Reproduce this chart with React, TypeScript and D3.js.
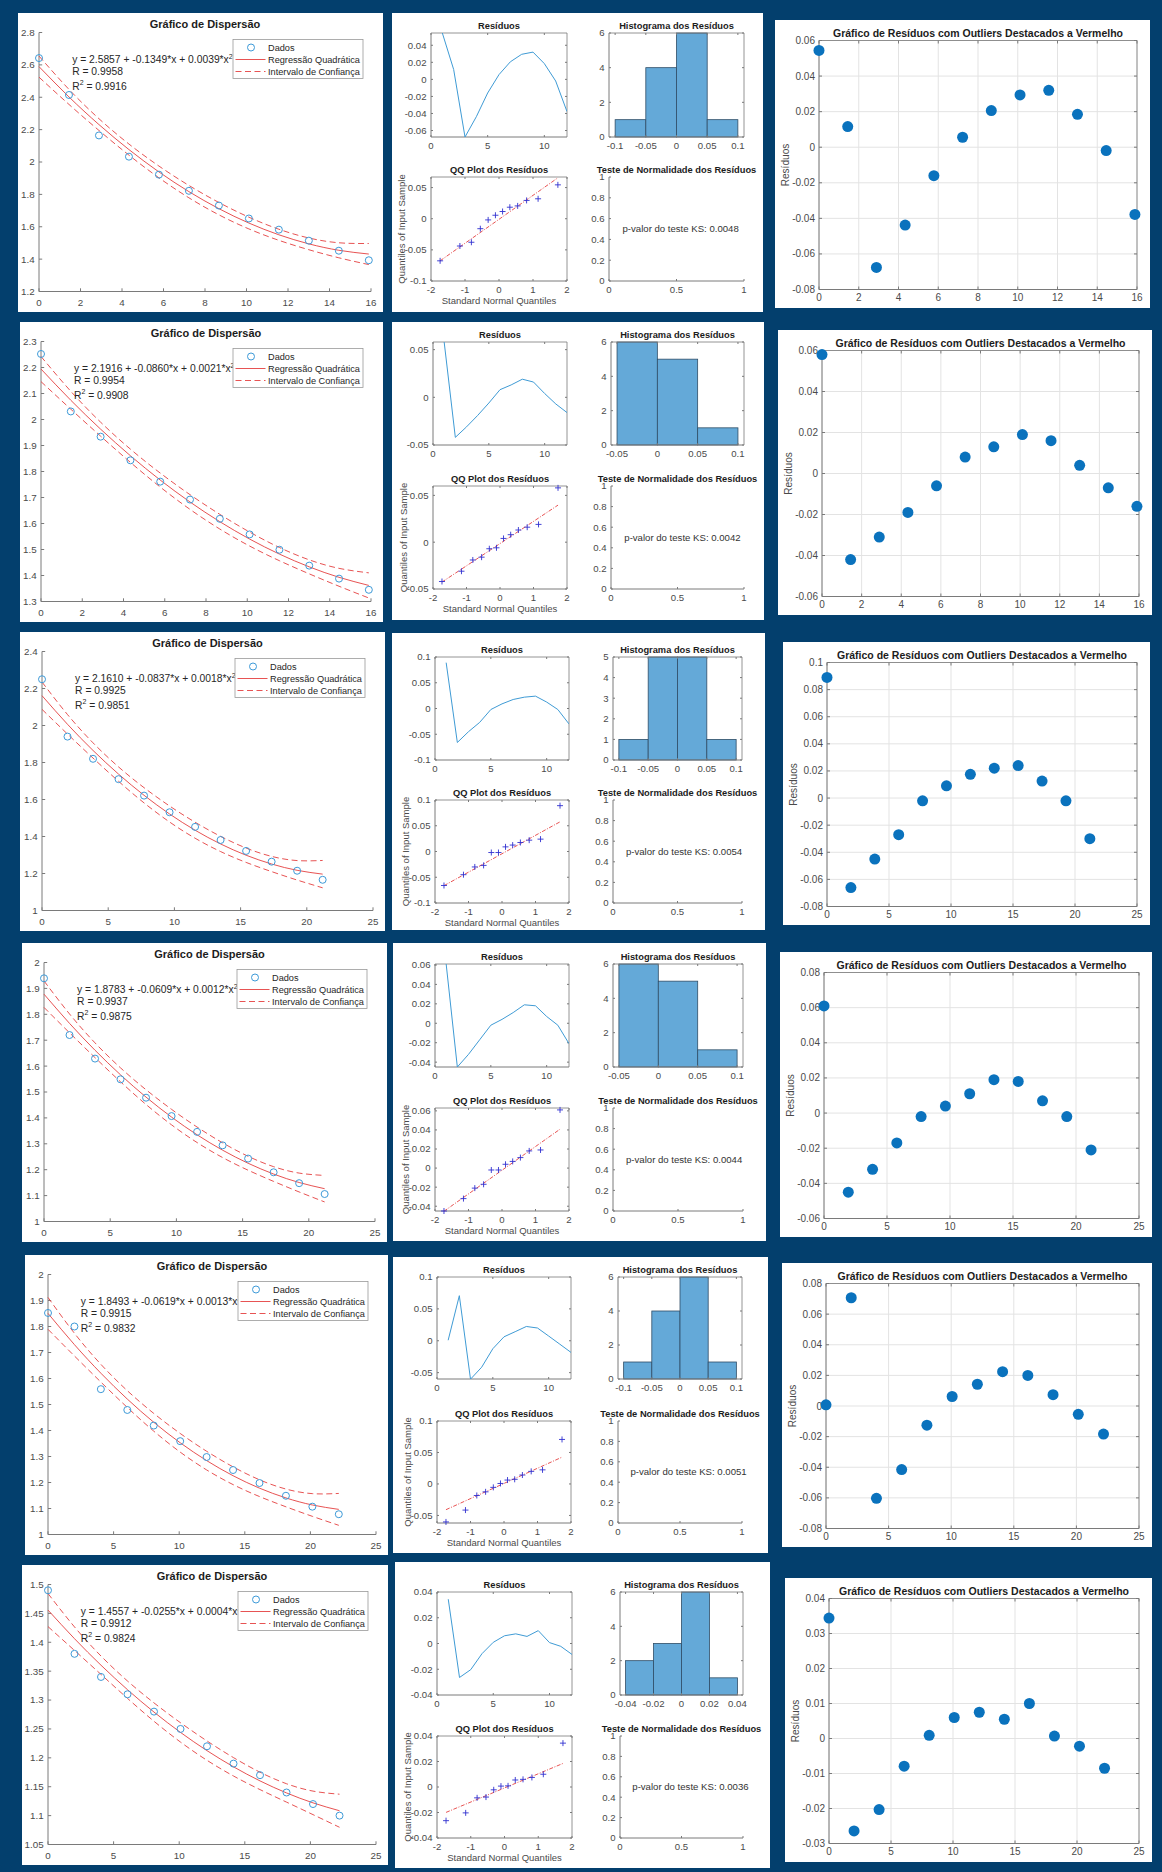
import React from 'react';
import * as d3 from 'd3';

// ================= DATA =================
const NORMAL_QUANTILES = [-1.732, -1.15, -0.812, -0.549, -0.319, -0.105, 0.105, 0.319, 0.549, 0.812, 1.15, 1.732];

const X1 = [0, 1.445, 2.89, 4.335, 5.78, 7.225, 8.67, 10.115, 11.56, 13.005, 14.45, 15.895];
const Y1 = [2.642, 2.414, 2.164, 2.033, 1.922, 1.822, 1.731, 1.651, 1.582, 1.514, 1.452, 1.393];
const RES1 = [0.0544, 0.0116, -0.0676, -0.0438, -0.016, 0.0056, 0.0206, 0.0294, 0.032, 0.0185, -0.0019, -0.0378];

const X2 = [0, 1.445, 2.89, 4.335, 5.78, 7.225, 8.67, 10.115, 11.56, 13.005, 14.45, 15.895];
const Y2 = [2.252, 2.031, 1.934, 1.843, 1.761, 1.692, 1.618, 1.558, 1.499, 1.438, 1.388, 1.345];
const RES2 = [0.058, -0.042, -0.031, -0.019, -0.006, 0.008, 0.013, 0.019, 0.016, 0.004, -0.007, -0.016];

const X3 = [0, 1.927, 3.854, 5.781, 7.708, 9.635, 11.562, 13.489, 15.416, 17.343, 19.27, 21.197];
const Y3 = [2.25, 1.94, 1.82, 1.71, 1.621, 1.531, 1.452, 1.381, 1.322, 1.264, 1.215, 1.166];
const RES3 = [0.089, -0.066, -0.045, -0.027, -0.002, 0.009, 0.0175, 0.022, 0.024, 0.0125, -0.002, -0.03];

const X4 = [0, 1.927, 3.854, 5.781, 7.708, 9.635, 11.562, 13.489, 15.416, 17.343, 19.27, 21.197];
const Y4 = [1.939, 1.72, 1.629, 1.549, 1.478, 1.407, 1.346, 1.294, 1.243, 1.19, 1.148, 1.106];
const RES4 = [0.061, -0.045, -0.032, -0.017, -0.002, 0.004, 0.011, 0.019, 0.018, 0.007, -0.002, -0.021];

const X5 = [0, 2.015, 4.03, 6.045, 8.06, 10.075, 12.09, 14.105, 16.12, 18.135, 20.15, 22.165];
const Y5 = [1.852, 1.8, 1.559, 1.479, 1.419, 1.359, 1.298, 1.248, 1.198, 1.149, 1.107, 1.078];
const RES5 = [0.0008, 0.0707, -0.0603, -0.0415, -0.0125, 0.0062, 0.0142, 0.0224, 0.02, 0.0074, -0.0054, -0.0183];

const X6 = [0, 2.02, 4.04, 6.06, 8.08, 10.1, 12.12, 14.14, 16.16, 18.18, 20.2, 22.22];
const Y6 = [1.49, 1.38, 1.34, 1.31, 1.28, 1.25, 1.22, 1.19, 1.17, 1.14, 1.12, 1.1];
const RES6 = [0.0344, -0.0264, -0.0203, -0.0079, 0.0009, 0.006, 0.0075, 0.0055, 0.01, 0.0007, -0.0022, -0.0085];

const COEF_A = ['2.5857', '2.1916', '2.1610', '1.8783', '1.8493', '1.4557'];
const COEF_B = ['-0.1349', '-0.0860', '-0.0837', '-0.0609', '-0.0619', '-0.0255'];
const COEF_C = ['0.0039', '0.0021', '0.0018', '0.0012', '0.0013', '0.0004'];
const R_VALUES = ['0.9958', '0.9954', '0.9925', '0.9937', '0.9915', '0.9912'];
const R2_VALUES = ['0.9916', '0.9908', '0.9851', '0.9875', '0.9832', '0.9824'];
const KS_PVALUES = ['0.0048', '0.0042', '0.0054', '0.0044', '0.0051', '0.0036'];

const HIST_EDGES1 = [-0.1, -0.05, 0, 0.05, 0.1];
const HIST_COUNTS1 = [1, 4, 6, 1];
const HIST_EDGES2 = [-0.05, 0, 0.05, 0.1];
const HIST_COUNTS2 = [6, 5, 1];
const HIST_EDGES3 = [-0.1, -0.05, 0, 0.05, 0.1];
const HIST_COUNTS3 = [1, 5, 5, 1];
const HIST_EDGES4 = [-0.05, 0, 0.05, 0.1];
const HIST_COUNTS4 = [6, 5, 1];
const HIST_EDGES5 = [-0.1, -0.05, 0, 0.05, 0.1];
const HIST_COUNTS5 = [1, 4, 6, 1];
const HIST_EDGES6 = [-0.04, -0.02, 0, 0.02, 0.04];
const HIST_COUNTS6 = [2, 3, 6, 1];

// tick values
const TICKS_X16 = [0, 2, 4, 6, 8, 10, 12, 14, 16];
const TICKS_X25 = [0, 5, 10, 15, 20, 25];
const LEFT_Y1 = [1.2, 1.4, 1.6, 1.8, 2, 2.2, 2.4, 2.6, 2.8];
const LEFT_Y2 = [1.3, 1.4, 1.5, 1.6, 1.7, 1.8, 1.9, 2, 2.1, 2.2, 2.3];
const LEFT_Y3 = [1, 1.2, 1.4, 1.6, 1.8, 2, 2.2, 2.4];
const LEFT_Y4 = [1, 1.1, 1.2, 1.3, 1.4, 1.5, 1.6, 1.7, 1.8, 1.9, 2];
const LEFT_Y5 = [1, 1.1, 1.2, 1.3, 1.4, 1.5, 1.6, 1.7, 1.8, 1.9, 2];
const LEFT_Y6 = [1.05, 1.1, 1.15, 1.2, 1.25, 1.3, 1.35, 1.4, 1.45, 1.5];

const T_002 = [-0.06, -0.04, -0.02, 0, 0.02, 0.04];
const T_005 = [-0.05, 0, 0.05];
const T_01 = [-0.1, -0.05, 0, 0.05, 0.1];
const T_QQ1 = [-0.1, -0.05, 0, 0.05];
const T_QQ4 = [-0.04, -0.02, 0, 0.02, 0.04, 0.06];
const T_R5 = [-0.05, 0, 0.05, 0.1];
const T_R6 = [-0.04, -0.02, 0, 0.02, 0.04];

const RIGHT_Y1 = [-0.08, -0.06, -0.04, -0.02, 0, 0.02, 0.04, 0.06];
const RIGHT_Y2 = [-0.06, -0.04, -0.02, 0, 0.02, 0.04, 0.06];
const RIGHT_Y3 = [-0.08, -0.06, -0.04, -0.02, 0, 0.02, 0.04, 0.06, 0.08, 0.1];
const RIGHT_Y4 = [-0.06, -0.04, -0.02, 0, 0.02, 0.04, 0.06, 0.08];
const RIGHT_Y5 = [-0.08, -0.06, -0.04, -0.02, 0, 0.02, 0.04, 0.06, 0.08];
const RIGHT_Y6 = [-0.03, -0.02, -0.01, 0, 0.01, 0.02, 0.03, 0.04];

const HIST_Y6 = [0, 2, 4, 6];
const HIST_Y5 = [0, 1, 2, 3, 4, 5];
const QQ_X = [-2, -1, 0, 1, 2];
const RES_X = [0, 5, 10];
const TEST_Y = [0, 0.2, 0.4, 0.6, 0.8, 1];
const TEST_X = [0, 0.5, 1];

// ================= configuration built from the arrays =================
type Row = {
  id: number;
  x: number[]; y: number[]; res: number[];
  a: string; b: string; c: string; r: string; r2: string; ks: string;
  edges: number[]; counts: number[]; histY: number[];
  leftX: [number, number]; leftXT: number[]; leftY: [number, number]; leftYT: number[];
  resD: [number, number]; resT: number[];
  qqD: [number, number]; qqT: number[];
  rightX: [number, number]; rightXT: number[]; rightY: [number, number]; rightYT: number[];
};

const ROWS: Row[] = [
  { id: 0, x: X1, y: Y1, res: RES1, edges: HIST_EDGES1, counts: HIST_COUNTS1, histY: HIST_Y6,
    leftX: [0, 16], leftXT: TICKS_X16, leftY: [1.2, 2.8], leftYT: LEFT_Y1,
    resD: [-0.0676, 0.0544], resT: T_002, qqD: [-0.1, 0.067], qqT: T_QQ1,
    rightX: [0, 16], rightXT: TICKS_X16, rightY: [-0.08, 0.06], rightYT: RIGHT_Y1 },
  { id: 1, x: X2, y: Y2, res: RES2, edges: HIST_EDGES2, counts: HIST_COUNTS2, histY: HIST_Y6,
    leftX: [0, 16], leftXT: TICKS_X16, leftY: [1.3, 2.3], leftYT: LEFT_Y2,
    resD: [-0.05, 0.058], resT: T_005, qqD: [-0.05, 0.06], qqT: T_005,
    rightX: [0, 16], rightXT: TICKS_X16, rightY: [-0.06, 0.06], rightYT: RIGHT_Y2 },
  { id: 2, x: X3, y: Y3, res: RES3, edges: HIST_EDGES3, counts: HIST_COUNTS3, histY: HIST_Y5,
    leftX: [0, 25], leftXT: TICKS_X25, leftY: [1, 2.4], leftYT: LEFT_Y3,
    resD: [-0.1, 0.1], resT: T_01, qqD: [-0.1, 0.1], qqT: T_01,
    rightX: [0, 25], rightXT: TICKS_X25, rightY: [-0.08, 0.1], rightYT: RIGHT_Y3 },
  { id: 3, x: X4, y: Y4, res: RES4, edges: HIST_EDGES4, counts: HIST_COUNTS4, histY: HIST_Y6,
    leftX: [0, 25], leftXT: TICKS_X25, leftY: [1, 2], leftYT: LEFT_Y4,
    resD: [-0.045, 0.061], resT: T_QQ4, qqD: [-0.045, 0.063], qqT: T_QQ4,
    rightX: [0, 25], rightXT: TICKS_X25, rightY: [-0.06, 0.08], rightYT: RIGHT_Y4 },
  { id: 4, x: X5, y: Y5, res: RES5, edges: HIST_EDGES5, counts: HIST_COUNTS5, histY: HIST_Y6,
    leftX: [0, 25], leftXT: TICKS_X25, leftY: [1, 2], leftYT: LEFT_Y5,
    resD: [-0.06, 0.1], resT: T_R5, qqD: [-0.062, 0.1], qqT: T_R5,
    rightX: [0, 25], rightXT: TICKS_X25, rightY: [-0.08, 0.08], rightYT: RIGHT_Y5 },
  { id: 5, x: X6, y: Y6, res: RES6, edges: HIST_EDGES6, counts: HIST_COUNTS6, histY: HIST_Y6,
    leftX: [0, 25], leftXT: TICKS_X25, leftY: [1.05, 1.5], leftYT: LEFT_Y6,
    resD: [-0.04, 0.04], resT: T_R6, qqD: [-0.04, 0.04], qqT: T_R6,
    rightX: [0, 25], rightXT: TICKS_X25, rightY: [-0.03, 0.04], rightYT: RIGHT_Y6 },
].map((r, i) => ({ ...r, a: COEF_A[i], b: COEF_B[i], c: COEF_C[i], r: R_VALUES[i], r2: R2_VALUES[i], ks: KS_PVALUES[i] })) as Row[];

// ================= layout =================
const LEFT_RECTS = [
  [18, 13, 365, 299], [20, 322, 363, 300], [20, 632, 365, 299],
  [22, 943, 365, 299], [25, 1255, 363, 300], [22, 1565, 366, 300],
];
const LEFT_MARGIN = [21, 21, 22, 22, 23, 26];
const MID_RECTS = [
  [392, 13, 371, 299], [392, 322, 372, 298], [392, 633, 373, 297],
  [393, 943, 373, 298], [393, 1257, 375, 296], [395, 1562, 375, 306],
];
// x0,x1,x2,x3,y0,y1,y2,y3
const MID_AXES = [
  [431, 567, 609, 744, 33, 137, 177, 281],
  [433, 567, 611, 744, 342, 445, 486, 589],
  [435, 569, 613, 742, 657, 760, 800, 903],
  [435, 569, 613, 743, 964, 1067, 1108, 1211],
  [437, 571, 618, 742, 1277, 1379, 1421, 1523],
  [437, 572, 620, 743, 1592, 1695, 1736, 1838],
];
const RIGHT_RECTS = [
  [775, 20, 375, 288], [778, 330, 374, 285], [783, 642, 367, 283],
  [780, 952, 372, 285], [782, 1263, 370, 284], [785, 1578, 367, 284],
];

const FONT = '"Liberation Sans", Arial, Helvetica, sans-serif';
const BG = '#033f6d';
const AXIS_COLOR = '#7a7a7a';
const TEXT_COLOR = '#4a4a4a';
const TITLE_COLOR = '#1c1c1c';
const GRID_COLOR = '#e3e3e3';
const RED = '#e4403f';
const BLUE_O = '#3d9ad8';
const T_CRIT = 2.262;

const fmt = (v: number) => {
  const r = Math.round(v * 1e6) / 1e6;
  return r === 0 ? '0' : String(r);
};

// ================= statistics helpers =================
function invert3(m: number[][]) {
  const [[a, b, c], [d, e, f], [g, h, i]] = m;
  const A = e * i - f * h, B = -(d * i - f * g), C = d * h - e * g;
  const D = -(b * i - c * h), E = a * i - c * g, F = -(a * h - b * g);
  const G = b * f - c * e, H = -(a * f - c * d), I = a * e - b * d;
  const det = a * A + b * B + c * C;
  return [[A / det, D / det, G / det], [B / det, E / det, H / det], [C / det, F / det, I / det]];
}

function quadFit(xs: number[], ys: number[]) {
  const S = [[0, 0, 0], [0, 0, 0], [0, 0, 0]];
  const bv = [0, 0, 0];
  xs.forEach((xv, i) => {
    const v = [1, xv, xv * xv];
    for (let a = 0; a < 3; a++) {
      bv[a] += v[a] * ys[i];
      for (let c = 0; c < 3; c++) S[a][c] += v[a] * v[c];
    }
  });
  const inv = invert3(S);
  const beta = [0, 1, 2].map((a) => inv[a][0] * bv[0] + inv[a][1] * bv[1] + inv[a][2] * bv[2]);
  let sse = 0;
  xs.forEach((xv, i) => {
    const e = ys[i] - (beta[0] + beta[1] * xv + beta[2] * xv * xv);
    sse += e * e;
  });
  const s = Math.sqrt(sse / (xs.length - 3));
  return { beta, inv, s };
}

function prctile(sorted: number[], p: number) {
  const n = sorted.length;
  const pos = n * p + 0.5;
  if (pos <= 1) return sorted[0];
  if (pos >= n) return sorted[n - 1];
  const lo = Math.floor(pos);
  return sorted[lo - 1] + (pos - lo) * (sorted[lo] - sorted[lo - 1]);
}

// ================= generic axes =================
type AxesProps = {
  left: number; top: number; right: number; bottom: number;
  x: d3.ScaleLinear<number, number>; y: d3.ScaleLinear<number, number>;
  xTicks: number[]; yTicks: number[];
  box?: boolean; grid?: boolean; fs: number; tl: number; xGap: number; yGap: number;
};

function Axes({ left, top, right, bottom, x, y, xTicks, yTicks, box = false, grid = false, fs, tl, xGap, yGap }: AxesProps) {
  return (
    <g fontFamily={FONT} fontSize={fs} fill={TEXT_COLOR}>
      {grid && xTicks.map((t) => (
        <line key={'gx' + t} x1={x(t)} x2={x(t)} y1={top} y2={bottom} stroke={GRID_COLOR} strokeWidth={1} />
      ))}
      {grid && yTicks.map((t) => (
        <line key={'gy' + t} x1={left} x2={right} y1={y(t)} y2={y(t)} stroke={GRID_COLOR} strokeWidth={1} />
      ))}
      <line x1={left} x2={left} y1={top} y2={bottom} stroke={AXIS_COLOR} strokeWidth={1} />
      <line x1={left} x2={right} y1={bottom} y2={bottom} stroke={AXIS_COLOR} strokeWidth={1} />
      {box && <line x1={left} x2={right} y1={top} y2={top} stroke={AXIS_COLOR} strokeWidth={0.8} />}
      {box && <line x1={right} x2={right} y1={top} y2={bottom} stroke={AXIS_COLOR} strokeWidth={0.8} />}
      {xTicks.map((t) => (
        <g key={'xt' + t}>
          <line x1={x(t)} x2={x(t)} y1={bottom} y2={bottom - tl} stroke={AXIS_COLOR} />
          {box && <line x1={x(t)} x2={x(t)} y1={top} y2={top + tl} stroke={AXIS_COLOR} />}
          <text x={x(t)} y={bottom + xGap} textAnchor="middle">{fmt(t)}</text>
        </g>
      ))}
      {yTicks.map((t) => (
        <g key={'yt' + t}>
          <line x1={left} x2={left + tl} y1={y(t)} y2={y(t)} stroke={AXIS_COLOR} />
          {box && <line x1={right} x2={right - tl} y1={y(t)} y2={y(t)} stroke={AXIS_COLOR} />}
          <text x={left - yGap} y={y(t)} dy="0.35em" textAnchor="end">{fmt(t)}</text>
        </g>
      ))}
    </g>
  );
}

// ================= left: scatter + regression =================
function ScatterPanel({ row }: { row: Row }) {
  const [px, py, pw, ph] = LEFT_RECTS[row.id];
  const left = px + LEFT_MARGIN[row.id];
  const right = px + pw - 12;
  const top = py + 19.5;
  const bottom = py + ph - 20.5;
  const x = d3.scaleLinear().domain(row.leftX).range([left, right]);
  const y = d3.scaleLinear().domain(row.leftY).range([bottom, top]);
  const { beta, inv, s } = quadFit(row.x, row.y);
  const pts = row.x.map((xv) => {
    const v = [1, xv, xv * xv];
    const yh = beta[0] + beta[1] * xv + beta[2] * xv * xv;
    let q = 0;
    for (let a = 0; a < 3; a++) for (let c = 0; c < 3; c++) q += v[a] * inv[a][c] * v[c];
    const hw = T_CRIT * s * Math.sqrt(q);
    return { xv, yh, lo: yh - hw, hi: yh + hw };
  });
  const mk = (key: 'yh' | 'lo' | 'hi') =>
    d3.line<typeof pts[number]>().x((d) => x(d.xv)).y((d) => y(d[key])).curve(d3.curveNatural)(pts) || '';
  const tx = x(row.leftX[0] + 0.1 * (row.leftX[1] - row.leftX[0]));
  const ty = top + 0.1 * (bottom - top) + 4.8;
  const lgW = 130, lgH = 39;
  const lgX = right - 8 - lgW, lgY = top + 7;
  const legendRows = [
    { label: 'Dados', kind: 'o' },
    { label: 'Regressão Quadrática', kind: '-' },
    { label: 'Intervalo de Confiança', kind: '--' },
  ];
  return (
    <g>
      <rect x={px} y={py} width={pw} height={ph} fill="#ffffff" />
      <Axes left={left} top={top} right={right} bottom={bottom} x={x} y={y}
        xTicks={row.leftXT} yTicks={row.leftYT} fs={9.8} tl={3.2} xGap={14} yGap={4.3} />
      <path d={mk('hi')} fill="none" stroke={RED} strokeWidth={0.9} strokeDasharray="6,3.5" />
      <path d={mk('lo')} fill="none" stroke={RED} strokeWidth={0.9} strokeDasharray="6,3.5" />
      <path d={mk('yh')} fill="none" stroke={RED} strokeWidth={0.9} />
      {row.x.map((xv, i) => (
        <circle key={i} cx={x(xv)} cy={y(row.y[i])} r={3.5} fill="none" stroke={BLUE_O} strokeWidth={1} />
      ))}
      <g fontFamily={FONT} fontSize={10.3} fill="#262626">
        <text x={tx} y={ty}>
          {`y = ${row.a} + ${row.b}*x + ${row.c}*x`}
          <tspan dy={-4.5} fontSize={7}>2</tspan>
        </text>
        <text x={tx} y={ty + 11.5}>{`R = ${row.r}`}</text>
        <text x={tx} y={ty + 26.5}>
          R<tspan dy={-4.5} fontSize={7}>2</tspan><tspan dy={4.5}>{` = ${row.r2}`}</tspan>
        </text>
      </g>
      <rect x={lgX} y={lgY} width={lgW} height={lgH} fill="#ffffff" stroke="#9a9a9a" strokeWidth={0.8} />
      <g fontFamily={FONT} fontSize={9.2} fill="#262626">
        {legendRows.map((d, i) => {
          const cy = lgY + 8 + i * 12;
          return (
            <g key={d.label}>
              {d.kind === 'o' && <circle cx={lgX + 18} cy={cy} r={3.5} fill="none" stroke={BLUE_O} strokeWidth={1} />}
              {d.kind !== 'o' && (
                <line x1={lgX + 2.5} x2={lgX + 32.5} y1={cy} y2={cy} stroke={RED} strokeWidth={0.9}
                  strokeDasharray={d.kind === '--' ? '6,3.5' : undefined} />
              )}
              <text x={lgX + 35} y={cy} dy="0.35em">{d.label}</text>
            </g>
          );
        })}
      </g>
      <text x={(left + right) / 2} y={top - 5} textAnchor="middle" fontFamily={FONT} fontSize={11}
        fontWeight="bold" fill={TITLE_COLOR}>Gráfico de Dispersão</text>
    </g>
  );
}

// ================= middle: 2x2 diagnostics =================
function DiagPanel({ row }: { row: Row }) {
  const [px, py, pw, ph] = MID_RECTS[row.id];
  const [x0, x1, x2, x3, y0, y1, y2, y3] = MID_AXES[row.id];
  const fs = 9.6;
  const tfs = 9.3;
  const id = row.id;

  const rx = d3.scaleLinear().domain([0, 12]).range([x0, x1]);
  const ry = d3.scaleLinear().domain(row.resD).range([y1, y0]);
  const resPath = d3.line<number>().x((_, i) => rx(i + 1)).y((d) => ry(d))(row.res) || '';

  const e0 = row.edges[0], eN = row.edges[row.edges.length - 1];
  const pad = 0.05 * (eN - e0);
  const hx = d3.scaleLinear().domain([e0 - pad, eN + pad]).range([x2, x3]);
  const hy = d3.scaleLinear().domain([0, row.histY[row.histY.length - 1]]).range([y1, y0]);

  const qx = d3.scaleLinear().domain([-2, 2]).range([x0, x1]);
  const qy = d3.scaleLinear().domain(row.qqD).range([y3, y2]);
  const sorted = [...row.res].sort((a, b) => a - b);
  const q1 = prctile(sorted, 0.25), q3 = prctile(sorted, 0.75);
  const slope = (q3 - q1) / (2 * 0.6745);
  const zA = NORMAL_QUANTILES[0], zB = NORMAL_QUANTILES[NORMAL_QUANTILES.length - 1];
  const lineA = q1 + slope * (zA + 0.6745), lineB = q1 + slope * (zB + 0.6745);

  const tx = d3.scaleLinear().domain([0, 1]).range([x2, x3]);
  const ty = d3.scaleLinear().domain([0, 1]).range([y3, y2]);

  const title = (cx: number, yy: number, label: string) => (
    <text x={cx} y={yy - 4} textAnchor="middle" fontFamily={FONT} fontSize={tfs} fontWeight="bold" fill={TITLE_COLOR}>{label}</text>
  );

  return (
    <g>
      <rect x={px} y={py} width={pw} height={ph} fill="#ffffff" />
      <defs>
        <clipPath id={`clipres${id}`}><rect x={x0} y={y0} width={x1 - x0} height={y1 - y0} /></clipPath>
      </defs>
      <Axes left={x0} top={y0} right={x1} bottom={y1} x={rx} y={ry} xTicks={RES_X} yTicks={row.resT}
        box fs={fs} tl={2} xGap={11.5} yGap={4.5} />
      <path d={resPath} fill="none" stroke="#3f9bd5" strokeWidth={1} clipPath={`url(#clipres${id})`} />
      {title((x0 + x1) / 2, y0, 'Resíduos')}

      {row.counts.map((c, i) => (
        <rect key={i} x={hx(row.edges[i])} y={hy(c)} width={hx(row.edges[i + 1]) - hx(row.edges[i])}
          height={hy(0) - hy(c)} fill="#64a9d8" stroke="#2f4d66" strokeWidth={0.8} />
      ))}
      <Axes left={x2} top={y0} right={x3} bottom={y1} x={hx} y={hy} xTicks={row.edges} yTicks={row.histY}
        box fs={fs} tl={2} xGap={11.5} yGap={4.5} />
      {title((x2 + x3) / 2, y0, 'Histograma dos Resíduos')}

      <Axes left={x0} top={y2} right={x1} bottom={y3} x={qx} y={qy} xTicks={QQ_X} yTicks={row.qqT}
        box fs={fs} tl={2} xGap={11.5} yGap={4.5} />
      <line x1={qx(zA)} y1={qy(lineA)} x2={qx(zB)} y2={qy(lineB)} stroke={RED} strokeWidth={0.9}
        strokeDasharray="4,1.5,1,1.5" />
      {sorted.map((v, i) => {
        const cx = qx(NORMAL_QUANTILES[i]), cy = qy(v);
        return <path key={i} d={`M${cx - 3},${cy}H${cx + 3}M${cx},${cy - 3}V${cy + 3}`} stroke="#3030d0" strokeWidth={0.9} />;
      })}
      {title((x0 + x1) / 2, y2, 'QQ Plot dos Resíduos')}
      <text x={(x0 + x1) / 2} y={y3 + 23} textAnchor="middle" fontFamily={FONT} fontSize={9.5} fill={TEXT_COLOR}>
        Standard Normal Quantiles
      </text>
      <text transform={`translate(${x0 - 26.5},${(y2 + y3) / 2}) rotate(-90)`} textAnchor="middle"
        fontFamily={FONT} fontSize={9.5} fill={TEXT_COLOR}>Quantiles of Input Sample</text>

      <Axes left={x2} top={y2} right={x3} bottom={y3} x={tx} y={ty} xTicks={TEST_X} yTicks={TEST_Y}
        fs={fs} tl={2} xGap={11.5} yGap={4.5} />
      <text x={tx(0.1)} y={ty(0.5)} dy="0.35em" fontFamily={FONT} fontSize={9.6} fill="#333333">
        {`p-valor do teste KS: ${row.ks}`}
      </text>
      {title((x2 + x3) / 2, y2, 'Teste de Normalidade dos Resíduos')}
    </g>
  );
}

// ================= right: residual scatter =================
function ResidualPanel({ row }: { row: Row }) {
  const [px, py, pw, ph] = RIGHT_RECTS[row.id];
  const left = px + 44, right = px + pw - 13, top = py + 20.5, bottom = py + ph - 18.5;
  const x = d3.scaleLinear().domain(row.rightX).range([left, right]);
  const y = d3.scaleLinear().domain(row.rightY).range([bottom, top]);
  return (
    <g>
      <rect x={px} y={py} width={pw} height={ph} fill="#ffffff" />
      <Axes left={left} top={top} right={right} bottom={bottom} x={x} y={y} xTicks={row.rightXT}
        yTicks={row.rightYT} box grid fs={10} tl={3} xGap={11.5} yGap={4} />
      {row.x.map((xv, i) => (
        <circle key={i} cx={x(xv)} cy={y(row.res[i])} r={5.5} fill="#0a72bd" />
      ))}
      <text x={(left + right) / 2} y={top - 4} textAnchor="middle" fontFamily={FONT} fontSize={10.5}
        fontWeight="bold" fill={TITLE_COLOR}>Gráfico de Resíduos com Outliers Destacados a Vermelho</text>
      <text transform={`translate(${left - 30},${(top + bottom) / 2}) rotate(-90)`} textAnchor="middle"
        fontFamily={FONT} fontSize={10.1} fill={TEXT_COLOR}>Resíduos</text>
    </g>
  );
}

export default function App() {
  return (
    <div style={{ position: 'absolute', left: 0, top: 0, width: 1162, height: 1872 }}>
      <svg width={1162} height={1872} viewBox="0 0 1162 1872" style={{ display: 'block' }}>
        <rect x={0} y={0} width={1162} height={1872} fill={BG} />
        {ROWS.map((row) => (
          <g key={row.id}>
            <ScatterPanel row={row} />
            <DiagPanel row={row} />
            <ResidualPanel row={row} />
          </g>
        ))}
      </svg>
    </div>
  );
}
